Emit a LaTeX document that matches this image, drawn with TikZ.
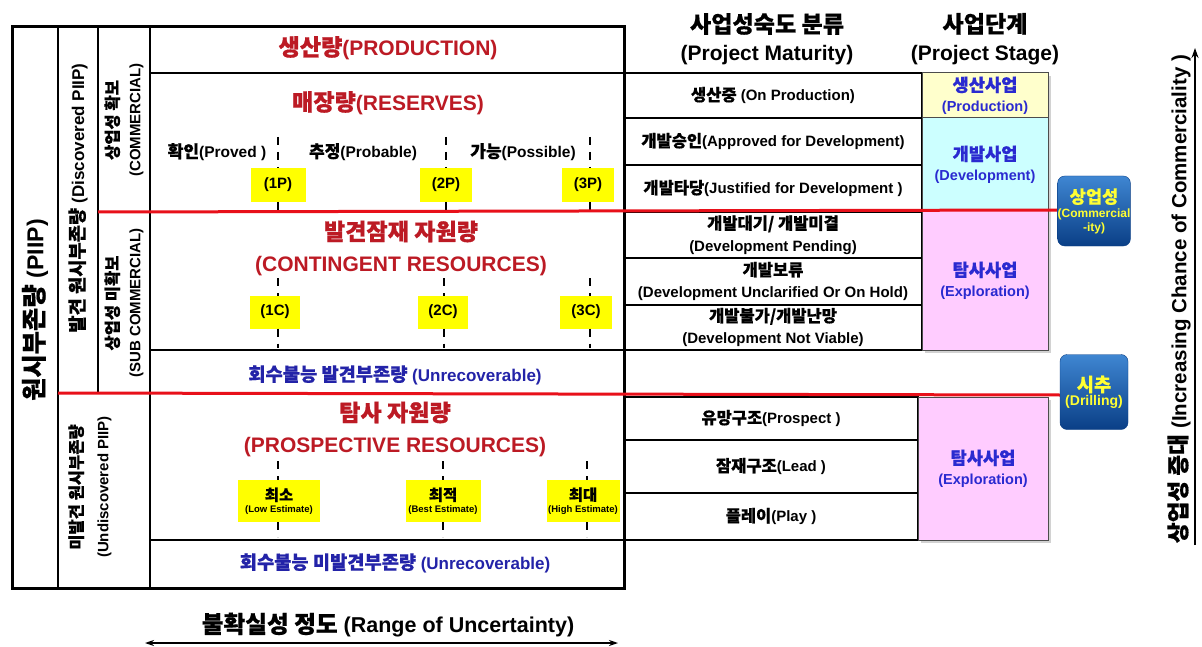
\documentclass[tikz,border=0pt]{standalone}
\usepackage{fontspec}
\setmainfont{Liberation Sans}
\newfontfamily\kr{Noto Sans CJK KR}[FakeBold=0.6,Scale=1.1]
\newcommand{\K}[1]{{\kr #1}}
\usetikzlibrary{arrows.meta,shadows}
\definecolor{dred}{HTML}{BC1A24}
\definecolor{lred}{HTML}{E8101A}
\definecolor{ublue}{HTML}{2323A8}
\definecolor{sblue}{HTML}{2A2AD0}
\definecolor{yel}{HTML}{FFFF00}
\definecolor{cprod}{HTML}{FFFFCC}
\definecolor{cdev}{HTML}{CCFFFF}
\definecolor{cexp}{HTML}{FFCCFF}
\definecolor{bdtop}{HTML}{3F86D2}
\definecolor{bdbot}{HTML}{0A3F86}
\definecolor{byel}{HTML}{FFFF33}
\begin{document}
\begin{tikzpicture}[x=1pt,y=-1pt,
  every node/.style={inner sep=0pt,outer sep=0pt},
  frame/.style={line width=3pt},
  thinline/.style={line width=1.6pt},
  redline/.style={line width=3pt, draw=lred},
  ttl/.style={font=\fontsize{21}{31}\selectfont\bfseries, text=dred, align=center},
  hdr/.style={font=\fontsize{21}{28}\selectfont\bfseries, align=center},
  lbl/.style={font=\fontsize{15.5}{18}\selectfont\bfseries},
  unrec/.style={font=\fontsize{17}{20}\selectfont\bfseries, text=ublue},
  ybox/.style={fill=yel, font=\fontsize{15}{18}\selectfont\bfseries},
  ebox/.style={fill=yel, align=center, font=\fontsize{14}{13}\selectfont\bfseries},
  dashv/.style={line width=2pt, dash pattern=on 8pt off 7pt},
  matrow/.style={draw, line width=2pt, minimum width=298pt, align=center, font=\fontsize{15}{22}\selectfont\bfseries},
  stagebox/.style={draw=black!70, line width=1pt, minimum width=126pt, align=center, text=sblue, font=\fontsize{16}{20}\selectfont\bfseries, drop shadow={shadow xshift=3pt,shadow yshift=-3pt,fill=black!35}},
  badge/.style={rounded corners=7pt, minimum width=68pt, minimum height=70pt, top color=bdtop, bottom color=bdbot, draw=bdbot, text=byel, align=center, font=\fontsize{12}{14}\selectfont\bfseries},
  rot/.style={rotate=90, align=center},
]
\useasboundingbox (0,0) rectangle (1202,647);
\fill[white] (0,0) rectangle (1202,647);

% headers
\node[hdr] (hm) at (767,39) {\K{사업성숙도 분류}\\(Project Maturity)};
\node[hdr] (hs) at (985,39) {\K{사업단계}\\(Project Stage)};

% left table frame and lines
\draw[thinline] (58,27) -- (58,588);
\draw[thinline] (98,27) -- (98,393);
\draw[thinline] (150,27) -- (150,588);
\draw[thinline] (150,73) -- (624,73);
\draw[thinline] (150,350) -- (624,350);
\draw[thinline] (150,540) -- (624,540);
\draw[frame] (12,27) rectangle (624,588);

% left rotated labels
\node[rot, font=\fontsize{23}{28}\selectfont\bfseries] (piip) at (35,310) {\K{원시부존량} (PIIP)};
\node[rot, font=\fontsize{17}{20}\selectfont\bfseries] (disc) at (78,198) {\K{발견 원시부존량} (Discovered PIIP)};
\node[rot, font=\fontsize{15}{22}\selectfont\bfseries] (comm) at (124,120) {\K{상업성 확보}\\(COMMERCIAL)};
\node[rot, font=\fontsize{15}{22}\selectfont\bfseries] (subc) at (124,303) {\K{상업성 미확보}\\(SUB COMMERCIAL)};
\node[rot, font=\fontsize{15}{26}\selectfont\bfseries] (undisc) at (90,487) {\K{미발견 원시부존량}\\(Undiscovered PIIP)};

% main column texts
\node[ttl] (prod) at (388,48) {\K{생산량}(PRODUCTION)};
\node[ttl] (res) at (388,103) {\K{매장량}(RESERVES)};
\node[lbl] (proved) at (217,152) {\K{확인}(Proved )};
\node[lbl] (probable) at (363,152) {\K{추정}(Probable)};
\node[lbl] (possible) at (523,152) {\K{가능}(Possible)};
\node[ttl] (cont) at (401,248) {\K{발견잠재 자원량}\\(CONTINGENT RESOURCES)};
\node[unrec] (unrec1) at (395,375) {\K{회수불능 발견부존량} (Unrecoverable)};
\node[ttl] (prosp) at (395,429) {\K{탐사 자원량}\\(PROSPECTIVE RESOURCES)};
\node[unrec] (unrec2) at (395,563) {\K{회수불능 미발견부존량} (Unrecoverable)};

% yellow boxes
\node[ybox, minimum width=55pt, minimum height=34pt] (p1) at (278,185) {(1P)};
\node[ybox, minimum width=52pt, minimum height=34pt] (p2) at (446,185) {(2P)};
\node[ybox, minimum width=52pt, minimum height=34pt] (p3) at (588,185) {(3P)};
\node[ybox, minimum width=50pt, minimum height=33pt] (c1) at (275,312) {(1C)};
\node[ybox, minimum width=50pt, minimum height=33pt] (c2) at (443,312) {(2C)};
\node[ybox, minimum width=52pt, minimum height=33pt] (c3) at (586,312) {(3C)};
\node[ebox, minimum width=82pt, minimum height=42pt] (e1) at (279,501) {\K{최소}\\[-1pt]{\fontsize{9.5}{10}\selectfont(Low Estimate)}};
\node[ebox, minimum width=75pt, minimum height=42pt] (e2) at (443,501) {\K{최적}\\[-1pt]{\fontsize{9.5}{10}\selectfont(Best Estimate)}};
\node[ebox, minimum width=73pt, minimum height=42pt] (e3) at (583,501) {\K{최대}\\[-1pt]{\fontsize{9.5}{10}\selectfont(High Estimate)}};

% dashed tick lines
\coordinate (p1t) at (278,137); \coordinate (p1b) at (278,210);
\coordinate (p2t) at (446,137); \coordinate (p2b) at (446,210);
\coordinate (p3t) at (590,137); \coordinate (p3b) at (590,210);
\draw[dashv] (p1t) -- (p1.north -| p1t); \draw[dashv] (p1.south -| p1b) -- (p1b);
\draw[dashv] (p2t) -- (p2.north -| p2t); \draw[dashv] (p2.south -| p2b) -- (p2b);
\draw[dashv] (p3t) -- (p3.north -| p3t); \draw[dashv] (p3.south -| p3b) -- (p3b);
\coordinate (c1t) at (278,278); \coordinate (c1b) at (278,348);
\coordinate (c2t) at (444,278); \coordinate (c2b) at (444,348);
\coordinate (c3t) at (590,278); \coordinate (c3b) at (590,348);
\draw[dashv] (c1t) -- (c1.north -| c1t); \draw[dashv] (c1.south -| c1b) -- (c1b);
\draw[dashv] (c2t) -- (c2.north -| c2t); \draw[dashv] (c2.south -| c2b) -- (c2b);
\draw[dashv] (c3t) -- (c3.north -| c3t); \draw[dashv] (c3.south -| c3b) -- (c3b);
\coordinate (e1t) at (278,461); \coordinate (e1b) at (278,537);
\coordinate (e2t) at (443,461); \coordinate (e2b) at (443,537);
\coordinate (e3t) at (587,461); \coordinate (e3b) at (587,537);
\draw[dashv] (e1t) -- (e1.north -| e1t); \draw[dashv] (e1.south -| e1b) -- (e1b);
\draw[dashv] (e2t) -- (e2.north -| e2t); \draw[dashv] (e2.south -| e2b) -- (e2b);
\draw[dashv] (e3t) -- (e3.north -| e3t); \draw[dashv] (e3.south -| e3b) -- (e3b);

% maturity rows
\node[matrow, minimum height=45pt] (m1) at (773,95.5) {\K{생산중} (On Production)};
\node[matrow, minimum height=47pt] (m2) at (773,141.5) {\K{개발승인}(Approved for Development)};
\node[matrow, minimum height=47pt] (m3) at (773,188.5) {\K{개발타당}(Justified for Development )};
\node[matrow, minimum height=46pt] (m4) at (773,235) {\K{개발대기/ 개발미결}\\(Development Pending)};
\node[matrow, minimum height=47pt] (m5) at (773,281.5) {\K{개발보류}\\(Development Unclarified Or On Hold)};
\node[matrow, minimum height=45pt] (m6) at (773,327.5) {\K{개발불가/개발난망}\\(Development Not Viable)};
\node[matrow, minimum width=294pt, minimum height=43pt] (m7) at (771,418.5) {\K{유망구조}(Prospect )};
\node[matrow, minimum width=294pt, minimum height=53pt] (m8) at (771,466.5) {\K{잠재구조}(Lead )};
\node[matrow, minimum width=294pt, minimum height=47pt] (m9) at (771,516.5) {\K{플레이}(Play )};

% stage boxes
\node[stagebox, fill=cprod, minimum height=45pt] (s1) at (985,95.5) {\K{생산사업}\\{\fontsize{14.5}{16}\selectfont(Production)}};
\node[stagebox, fill=cdev, minimum height=93pt] (s2) at (985,164.5) {\K{개발사업}\\{\fontsize{14.5}{16}\selectfont(Development)}};
\node[stagebox, fill=cexp, minimum height=139pt] (s3) at (985,280.5) {\K{탐사사업}\\{\fontsize{14.5}{16}\selectfont(Exploration)}};
\node[stagebox, fill=cexp, minimum width=130pt, minimum height=143pt] (s4) at (983,468.5) {\K{탐사사업}\\{\fontsize{14.5}{16}\selectfont(Exploration)}};

% red boundary lines
\coordinate (r1a) at (98,212); \coordinate (r1b) at (1060,210);
\coordinate (r2a) at (58,393); \coordinate (r2b) at (1060,395);
\draw[redline] (r1a) -- (r1b);
\draw[redline] (r2a) -- (r2b);

% badges
\node[badge] (bc) at (1094,211) {{\fontsize{16}{18}\selectfont\K{상업성}}\\(Commercial\\-ity)};
\node[badge, minimum height=75pt] (bd) at (1094,392) {{\fontsize{17}{20}\selectfont\K{시추}}\\{\fontsize{14}{17}\selectfont(Drilling)}};

% right axis
\coordinate (ra) at (1195,545); \coordinate (rb) at (1195,48);
\draw[line width=1.6pt, -{Stealth[length=10pt,width=7pt]}] (ra) -- (rb);
\node[rot, font=\fontsize{20.5}{24}\selectfont\bfseries] (incr) at (1179,299) {\K{상업성 증대} (Increasing Chance of Commerciality )};

% bottom axis
\node[font=\fontsize{21.5}{24}\selectfont\bfseries] (unc) at (388,625) {\K{불확실성 정도} (Range of Uncertainty)};
\coordinate (ba) at (145,643); \coordinate (bb) at (618,643);
\draw[line width=1.4pt, {Stealth[length=9pt,width=6pt]}-{Stealth[length=9pt,width=6pt]}] (ba) -- (bb);
\end{tikzpicture}
\end{document}
